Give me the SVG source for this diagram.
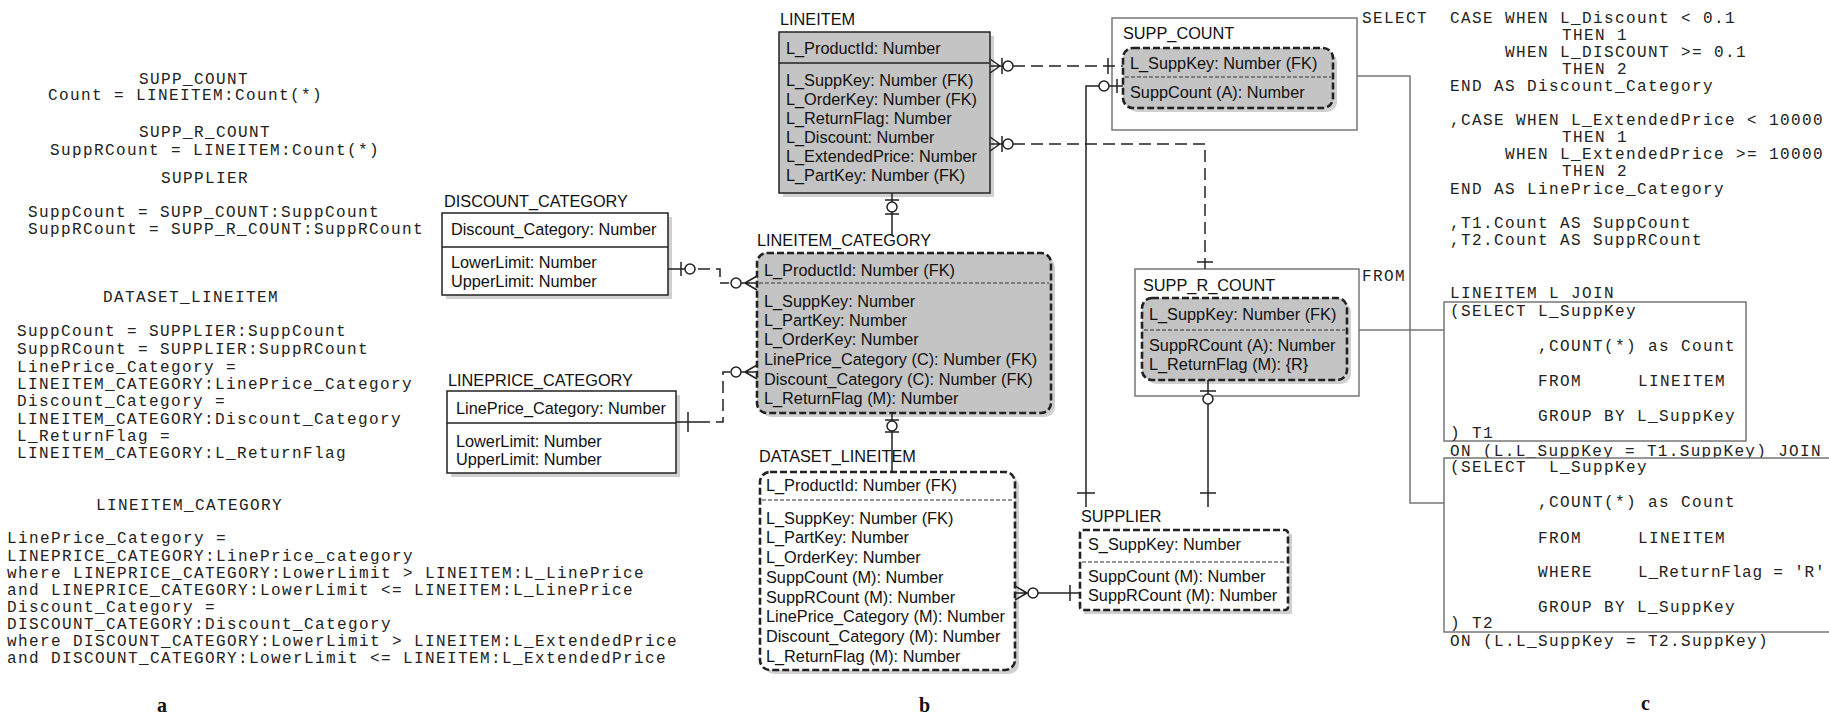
<svg xmlns="http://www.w3.org/2000/svg" width="1829" height="714" viewBox="0 0 1829 714">
<style>
.m{font-family:"Liberation Mono",monospace;font-size:16px;letter-spacing:1.4px;fill:#222}
.s{font-family:"Liberation Sans",Arial,sans-serif;font-size:16.3px;fill:#111}
.lab{font-family:"Liberation Serif",serif;font-size:20px;font-weight:bold;fill:#111}
.ent{fill:#fff;stroke:#222;stroke-width:1.5}
.g{fill:#c4c4c4}
.dash{stroke:#222;stroke-width:2.6;stroke-dasharray:7 3}
.div{stroke:#222;stroke-width:1.5}
.ddiv{stroke:#333;stroke-width:1.2;stroke-dasharray:4 2}
.sh{fill:#aaa;opacity:0.55}
.frame{fill:#fff;stroke:#777;stroke-width:1.5}
.ln{fill:none;stroke:#222;stroke-width:1.5}
.dl{fill:none;stroke:#222;stroke-width:1.5;stroke-dasharray:12 6}
.gl{fill:none;stroke:#777;stroke-width:1.5}
.c{fill:#fff;stroke:#222;stroke-width:1.5}
</style>

<g id="panel-a">
<text class="m" x="139" y="84">SUPP_COUNT</text>
<text class="m" x="48" y="100">Count = LINEITEM:Count(*)</text>
<text class="m" x="139" y="137">SUPP_R_COUNT</text>
<text class="m" x="50" y="155">SuppRCount = LINEITEM:Count(*)</text>
<text class="m" x="161" y="183">SUPPLIER</text>
<text class="m" x="28" y="217">SuppCount = SUPP_COUNT:SuppCount</text>
<text class="m" x="28" y="234">SuppRCount = SUPP_R_COUNT:SuppRCount</text>
<text class="m" x="103" y="302">DATASET_LINEITEM</text>
<text class="m" x="17" y="336">SuppCount = SUPPLIER:SuppCount</text>
<text class="m" x="17" y="354">SuppRCount = SUPPLIER:SuppRCount</text>
<text class="m" x="17" y="372">LinePrice_Category =</text>
<text class="m" x="17" y="389">LINEITEM_CATEGORY:LinePrice_Category</text>
<text class="m" x="17" y="406">Discount_Category =</text>
<text class="m" x="17" y="424">LINEITEM_CATEGORY:Discount_Category</text>
<text class="m" x="17" y="441">L_ReturnFlag =</text>
<text class="m" x="17" y="458">LINEITEM_CATEGORY:L_ReturnFlag</text>
<text class="m" x="96" y="510">LINEITEM_CATEGORY</text>
<text class="m" x="7" y="543">LinePrice_Category =</text>
<text class="m" x="7" y="561">LINEPRICE_CATEGORY:LinePrice_category</text>
<text class="m" x="7" y="578">where LINEPRICE_CATEGORY:LowerLimit &gt; LINEITEM:L_LinePrice</text>
<text class="m" x="7" y="595">and LINEPRICE_CATEGORY:LowerLimit &lt;= LINEITEM:L_LinePrice</text>
<text class="m" x="7" y="612">Discount_Category =</text>
<text class="m" x="7" y="629">DISCOUNT_CATEGORY:Discount_Category</text>
<text class="m" x="7" y="646">where DISCOUNT_CATEGORY:LowerLimit &gt; LINEITEM:L_ExtendedPrice</text>
<text class="m" x="7" y="663">and DISCOUNT_CATEGORY:LowerLimit &lt;= LINEITEM:L_ExtendedPrice</text>
<text class="lab" x="157" y="712">a</text>
</g>

<g id="panel-c">
<text class="m" x="1362" y="23">SELECT</text>
<text class="m" x="1450" y="23">CASE WHEN L_Discount &lt; 0.1</text>
<text class="m" x="1562" y="40">THEN 1</text>
<text class="m" x="1505" y="57">WHEN L_DISCOUNT &gt;= 0.1</text>
<text class="m" x="1562" y="74">THEN 2</text>
<text class="m" x="1450" y="91">END AS Discount_Category</text>
<text class="m" x="1450" y="125">,CASE WHEN L_ExtendedPrice &lt; 10000</text>
<text class="m" x="1562" y="142">THEN 1</text>
<text class="m" x="1505" y="159">WHEN L_ExtendedPrice &gt;= 10000</text>
<text class="m" x="1562" y="176">THEN 2</text>
<text class="m" x="1450" y="194">END AS LinePrice_Category</text>
<text class="m" x="1450" y="228">,T1.Count AS SuppCount</text>
<text class="m" x="1450" y="245">,T2.Count AS SuppRCount</text>
<text class="m" x="1362" y="281">FROM</text>
<text class="m" x="1450" y="298">LINEITEM L JOIN</text>
<rect class="frame" x="1444" y="302" width="302" height="139" fill="none"/>
<text class="m" x="1450" y="316">(SELECT L_SuppKey</text>
<text class="m" x="1538" y="351">,COUNT(*) as Count</text>
<text class="m" x="1538" y="386">FROM</text>
<text class="m" x="1638" y="386">LINEITEM</text>
<text class="m" x="1538" y="421">GROUP BY L_SuppKey</text>
<text class="m" x="1450" y="438">) T1</text>
<text class="m" x="1450" y="456" textLength="372" lengthAdjust="spacing">ON (L.L_SuppKey = T1.SuppKey) JOIN</text>
<rect class="frame" x="1444" y="458" width="400" height="174" fill="none"/>
<text class="m" x="1450" y="472">(SELECT</text>
<text class="m" x="1549" y="472">L_SuppKey</text>
<text class="m" x="1538" y="507">,COUNT(*) as Count</text>
<text class="m" x="1538" y="543">FROM</text>
<text class="m" x="1638" y="543">LINEITEM</text>
<text class="m" x="1538" y="577">WHERE</text>
<text class="m" x="1638" y="577" textLength="188" lengthAdjust="spacing">L_ReturnFlag = 'R'</text>
<text class="m" x="1538" y="612">GROUP BY L_SuppKey</text>
<text class="m" x="1450" y="628">) T2</text>
<text class="m" x="1450" y="646">ON (L.L_SuppKey = T2.SuppKey)</text>
<text class="lab" x="1641" y="710">c</text>
</g>

<g id="SUPP_COUNT">
<rect class="frame" x="1112" y="18" width="245" height="112"/>
<text class="s" x="1123" y="39">SUPP_COUNT</text>
<rect class="sh" x="1127" y="52" width="210" height="60" rx="10"/>
<rect class="g dash" x="1123" y="48" width="210" height="60" rx="10"/>
<line class="ddiv" x1="1125" y1="77" x2="1331" y2="77"/>
<text class="s" x="1130" y="69">L_SuppKey: Number (FK)</text>
<text class="s" x="1130" y="98">SuppCount (A): Number</text>
</g>

<g id="SUPP_R_COUNT">
<rect class="frame" x="1135" y="269" width="224" height="127"/>
<text class="s" x="1143" y="291">SUPP_R_COUNT</text>
<rect class="sh" x="1146" y="302" width="205" height="82" rx="10"/>
<rect class="g dash" x="1142" y="298" width="205" height="82" rx="10"/>
<line class="ddiv" x1="1144" y1="330" x2="1345" y2="330"/>
<text class="s" x="1149" y="320">L_SuppKey: Number (FK)</text>
<text class="s" x="1149" y="351">SuppRCount (A): Number</text>
<text class="s" x="1149" y="370">L_ReturnFlag (M): {R}</text>
</g>

<g id="LINEITEM">
<text class="s" x="780" y="25">LINEITEM</text>
<rect class="sh" x="783" y="36" width="211" height="161"/>
<rect class="g" x="779" y="32" width="211" height="161" stroke="#222" stroke-width="1.5"/>
<line class="div" x1="779" y1="63" x2="990" y2="63"/>
<text class="s" x="786" y="54">L_ProductId: Number</text>
<text class="s" x="786" y="86">L_SuppKey: Number (FK)</text>
<text class="s" x="786" y="105">L_OrderKey: Number (FK)</text>
<text class="s" x="786" y="124">L_ReturnFlag: Number</text>
<text class="s" x="786" y="143">L_Discount: Number</text>
<text class="s" x="786" y="162">L_ExtendedPrice: Number</text>
<text class="s" x="786" y="181">L_PartKey: Number (FK)</text>
</g>

<g id="LINEITEM_CATEGORY">
<text class="s" x="757" y="246">LINEITEM_CATEGORY</text>
<rect class="sh" x="761" y="257" width="294" height="160" rx="10"/>
<rect class="g dash" x="757" y="253" width="294" height="160" rx="10"/>
<line class="ddiv" x1="759" y1="283" x2="1049" y2="283"/>
<text class="s" x="764" y="276">L_ProductId: Number (FK)</text>
<text class="s" x="764" y="307">L_SuppKey: Number</text>
<text class="s" x="764" y="326">L_PartKey: Number</text>
<text class="s" x="764" y="345">L_OrderKey: Number</text>
<text class="s" x="764" y="365">LinePrice_Category (C): Number (FK)</text>
<text class="s" x="764" y="385">Discount_Category (C): Number (FK)</text>
<text class="s" x="764" y="404">L_ReturnFlag (M): Number</text>
</g>

<g id="DATASET_LINEITEM">
<text class="s" x="759" y="462">DATASET_LINEITEM</text>
<rect class="sh" x="764" y="476" width="255" height="198" rx="10"/>
<rect class="dash" fill="#fff" x="760" y="472" width="255" height="198" rx="10"/>
<line class="ddiv" x1="762" y1="500" x2="1013" y2="500"/>
<text class="s" x="766" y="491">L_ProductId: Number (FK)</text>
<text class="s" x="766" y="524">L_SuppKey: Number (FK)</text>
<text class="s" x="766" y="543">L_PartKey: Number</text>
<text class="s" x="766" y="563">L_OrderKey: Number</text>
<text class="s" x="766" y="583">SuppCount (M): Number</text>
<text class="s" x="766" y="603">SuppRCount (M): Number</text>
<text class="s" x="766" y="622">LinePrice_Category (M): Number</text>
<text class="s" x="766" y="642">Discount_Category (M): Number</text>
<text class="s" x="766" y="662">L_ReturnFlag (M): Number</text>
</g>

<g id="DISCOUNT_CATEGORY">
<text class="s" x="444" y="207">DISCOUNT_CATEGORY</text>
<rect class="sh" x="446" y="217" width="226" height="82"/>
<rect class="ent" x="442" y="213" width="226" height="82"/>
<line class="div" x1="442" y1="247" x2="668" y2="247"/>
<text class="s" x="451" y="235">Discount_Category: Number</text>
<text class="s" x="451" y="268">LowerLimit: Number</text>
<text class="s" x="451" y="287">UpperLimit: Number</text>
</g>

<g id="LINEPRICE_CATEGORY">
<text class="s" x="448" y="386">LINEPRICE_CATEGORY</text>
<rect class="sh" x="451" y="395" width="229" height="82"/>
<rect class="ent" x="447" y="391" width="229" height="82"/>
<line class="div" x1="447" y1="423" x2="676" y2="423"/>
<text class="s" x="456" y="414">LinePrice_Category: Number</text>
<text class="s" x="456" y="447">LowerLimit: Number</text>
<text class="s" x="456" y="465">UpperLimit: Number</text>
</g>

<g id="SUPPLIER">
<text class="s" x="1081" y="522">SUPPLIER</text>
<rect class="sh" x="1084" y="534" width="208" height="80"/>
<rect class="dash" fill="#fff" x="1080" y="530" width="208" height="80" rx="3"/>
<line class="ddiv" x1="1082" y1="562" x2="1286" y2="562"/>
<text class="s" x="1088" y="550">S_SuppKey: Number</text>
<text class="s" x="1088" y="582">SuppCount (M): Number</text>
<text class="s" x="1088" y="601">SuppRCount (M): Number</text>
</g>

<g id="connectors">
<path class="ln" d="M892 193V236M885 200H899M885 214H899"/>
<circle class="c" cx="892" cy="207" r="5"/>
<path class="ln" d="M892 413V472M885 420H899M885 432H899"/>
<circle class="c" cx="892" cy="426" r="5"/>
<path class="ln" d="M668 269H685M681 262V276"/>
<circle class="c" cx="690" cy="269" r="5"/>
<path class="dl" d="M698 269H720V283H729"/>
<path class="ln" d="M741 283H757M745 283L757 276M745 283L757 290"/>
<circle class="c" cx="736" cy="283" r="5"/>
<path class="ln" d="M676 422H698M688 412V432"/>
<path class="dl" d="M698 422H723V372H730"/>
<path class="ln" d="M741 372H757M745 372L757 365M745 372L757 379"/>
<circle class="c" cx="736" cy="372" r="5"/>
<path class="ln" d="M1015 593H1028M1027 593L1015 586M1027 593L1015 600"/>
<circle class="c" cx="1033" cy="593" r="5"/>
<path class="ln" d="M1038 593H1080M1070 585V601"/>
<path class="ln" d="M990 66H1003M1000 66L990 59M1000 66L990 73M1002 58V74"/>
<circle class="c" cx="1008" cy="66" r="5"/>
<path class="dl" d="M1013 66H1123"/>
<path class="ln" d="M1108 58V74"/>
<path class="ln" d="M990 144H1003M1000 144L990 137M1000 144L990 151M1002 136V152"/>
<circle class="c" cx="1008" cy="144" r="5"/>
<path class="dl" d="M1013 144H1205V269"/>
<path class="ln" d="M1197 262H1213"/>
<path class="ln" d="M1123 86H1109M1099 86H1086V507M1117 79V93M1077 493H1095"/>
<circle class="c" cx="1104" cy="86" r="5"/>
<path class="ln" d="M1208 380V394M1208 404V507M1200 391H1216M1200 493H1216"/>
<circle class="c" cx="1208" cy="399" r="5"/>
<path class="gl" d="M1357 76H1410V503H1444"/>
<path class="gl" d="M1359 330H1444"/>
</g>
<text class="lab" x="919" y="712">b</text>
</svg>
